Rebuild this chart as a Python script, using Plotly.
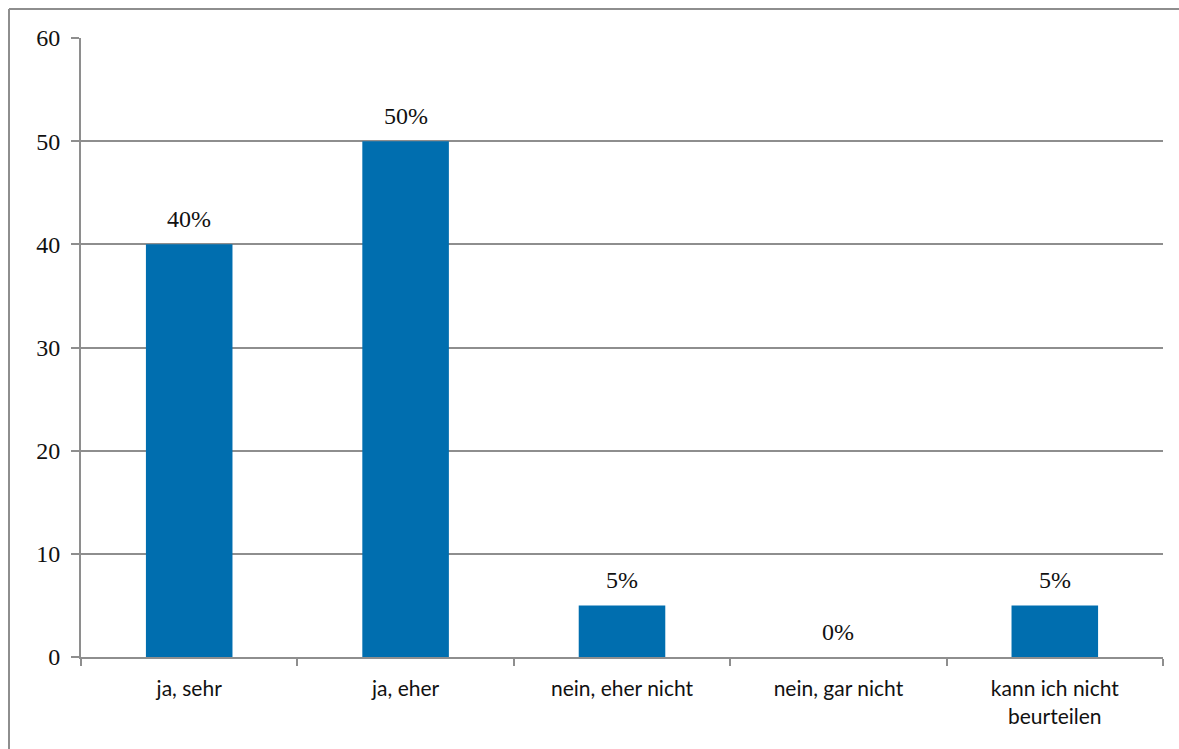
import plotly.graph_objects as go

categories = ["ja, sehr", "ja, eher", "nein, eher nicht", "nein, gar nicht", "kann ich nicht<br>beurteilen"]
values = [40, 50, 5, 0, 5]
labels = ["40%", "50%", "5%", "0%", "5%"]
y_ticks = [0, 10, 20, 30, 40, 50, 60]

bar_color = "#006EAF"
grid_color = "#8E8E8E"

fig = go.Figure()
fig.add_trace(go.Bar(x=categories, y=values, marker=dict(color=bar_color, line=dict(width=0)),
                     hoverinfo="skip"))

for c, v, t in zip(categories, values, labels):
    fig.add_annotation(x=c, y=v, text=t, showarrow=False, yanchor="bottom", yshift=10,
                       font=dict(family="Liberation Serif", size=24, color="#111111"))

# plot area at x 81..1163, y 38..657 (body margin removed in the page)
bx = (9 - 81) / 1082
by = 1 + 29 / 619
bx_right = 1 + (1179 - 1163) / 1082
fig.update_layout(
    width=1179, height=749,
    margin=dict(l=81, r=16, t=38, b=92),
    paper_bgcolor="white", plot_bgcolor="white",
    bargap=0.6, showlegend=False,
    shapes=[
        dict(type="line", xref="paper", yref="paper", x0=bx, x1=bx, y0=-0.2, y1=by,
             line=dict(color="#8E8E8E", width=2), layer="below"),
        dict(type="line", xref="paper", yref="paper", x0=bx, x1=bx_right, y0=by, y1=by,
             line=dict(color="#8E8E8E", width=2), layer="below"),
    ],
)
fig.update_xaxes(
    showline=True, linecolor=grid_color, linewidth=2,
    ticks="outside", tickson="boundaries", ticklen=7, tickcolor=grid_color, tickwidth=2,
    tickfont=dict(family="Lato", size=21, color="#111111"),
    ticklabelstandoff=12,
    showgrid=False, fixedrange=True,
)
fig.update_yaxes(
    range=[0, 60], tickvals=y_ticks,
    showline=True, linecolor=grid_color, linewidth=2,
    ticks="outside", ticklen=8, tickcolor=grid_color, tickwidth=2,
    ticklabelstandoff=6,
    showgrid=True, gridcolor=grid_color, gridwidth=2,
    tickfont=dict(family="Liberation Serif", size=24, color="#111111"),
    zeroline=False, fixedrange=True,
)

fig.write_html("out.html", config={"displayModeBar": False},
               post_script="document.body.style.margin='0';document.body.style.overflow='hidden';")
